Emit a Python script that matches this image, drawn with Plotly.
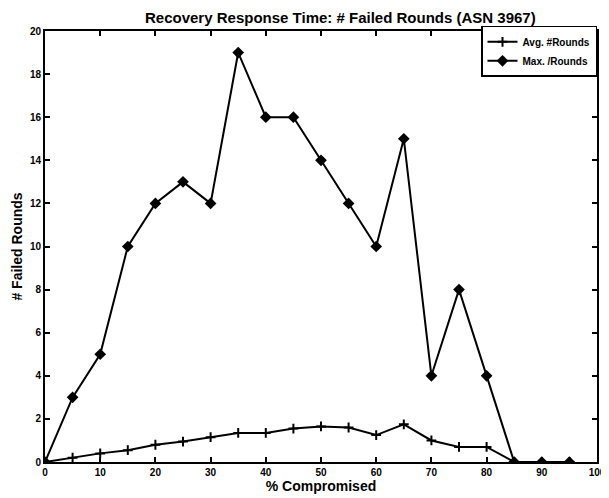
import plotly.graph_objects as go

pct = [0, 5, 10, 15, 20, 25, 30, 35, 40, 45, 50, 55, 60, 65, 70, 75, 80, 85, 90, 95]
avg_rounds = [0, 0.2, 0.4, 0.55, 0.8, 0.95, 1.15, 1.35, 1.35, 1.55, 1.65, 1.6, 1.25, 1.75, 1.0, 0.7, 0.7, 0, 0, 0]
max_rounds = [0, 3, 5, 10, 12, 13, 12, 19, 16, 16, 14, 12, 10, 15, 4, 8, 4, 0, 0, 0]

fnt = 'Liberation Sans, Arial, sans-serif'

trace1 = go.Scatter(
    x=pct, y=avg_rounds,
    mode='lines+markers',
    line={'color': 'black', 'width': 2},
    marker={'color': 'black', 'symbol': 'cross-thin', 'size': 7, 'line': {'color': 'black', 'width': 2}},
    name='<b>Avg. #Rounds</b>'
)
trace2 = go.Scatter(
    x=pct, y=max_rounds,
    mode='lines+markers',
    line={'color': 'black', 'width': 2},
    marker={'color': 'black', 'symbol': 'diamond', 'size': 9},
    name='<b>Max. /Rounds</b>'
)

axis_common = dict(
    showgrid=False, zeroline=False, automargin=False,
    showline=True, linecolor='black', linewidth=2, mirror='ticks',
    ticks='inside', ticklen=5, tickwidth=1.5, tickcolor='black',
    tickfont={'family': fnt, 'size': 10, 'color': 'black', 'weight': 'bold'},
)

# page body has an 8px margin, so the figure is drawn 8px in from top-left
layout = go.Layout(
    title={'text': '<b>Recovery Response Time: # Failed Rounds (ASN 3967)</b>',
           'x': 0.553, 'xanchor': 'center', 'y': 0.99, 'yanchor': 'top',
           'font': {'family': fnt, 'size': 15, 'color': 'black'}},
    xaxis=dict(axis_common, range=[0, 100], dtick=10,
               title={'text': '<b>% Compromised</b>', 'standoff': 4,
                      'font': {'family': fnt, 'size': 14, 'color': 'black'}}),
    yaxis=dict(axis_common, range=[0, 20], dtick=2,
               title={'text': '<b># Failed Rounds</b>', 'standoff': 4,
                      'font': {'family': fnt, 'size': 14, 'color': 'black'}}),
    legend={'x': 1.0, 'y': 1.012, 'xanchor': 'right', 'yanchor': 'top',
            'bgcolor': 'white', 'bordercolor': 'black', 'borderwidth': 1.5,
            'font': {'family': fnt, 'size': 10, 'color': 'black'},
            'tracegroupgap': 0, 'itemwidth': 30},
    plot_bgcolor='white',
    paper_bgcolor='white',
    width=601, height=490,
    margin={'l': 37, 'r': 12, 't': 23, 'b': 36},
    showlegend=True,
)

fig = go.Figure(data=[trace1, trace2], layout=layout)
fig.write_html('out.html')
